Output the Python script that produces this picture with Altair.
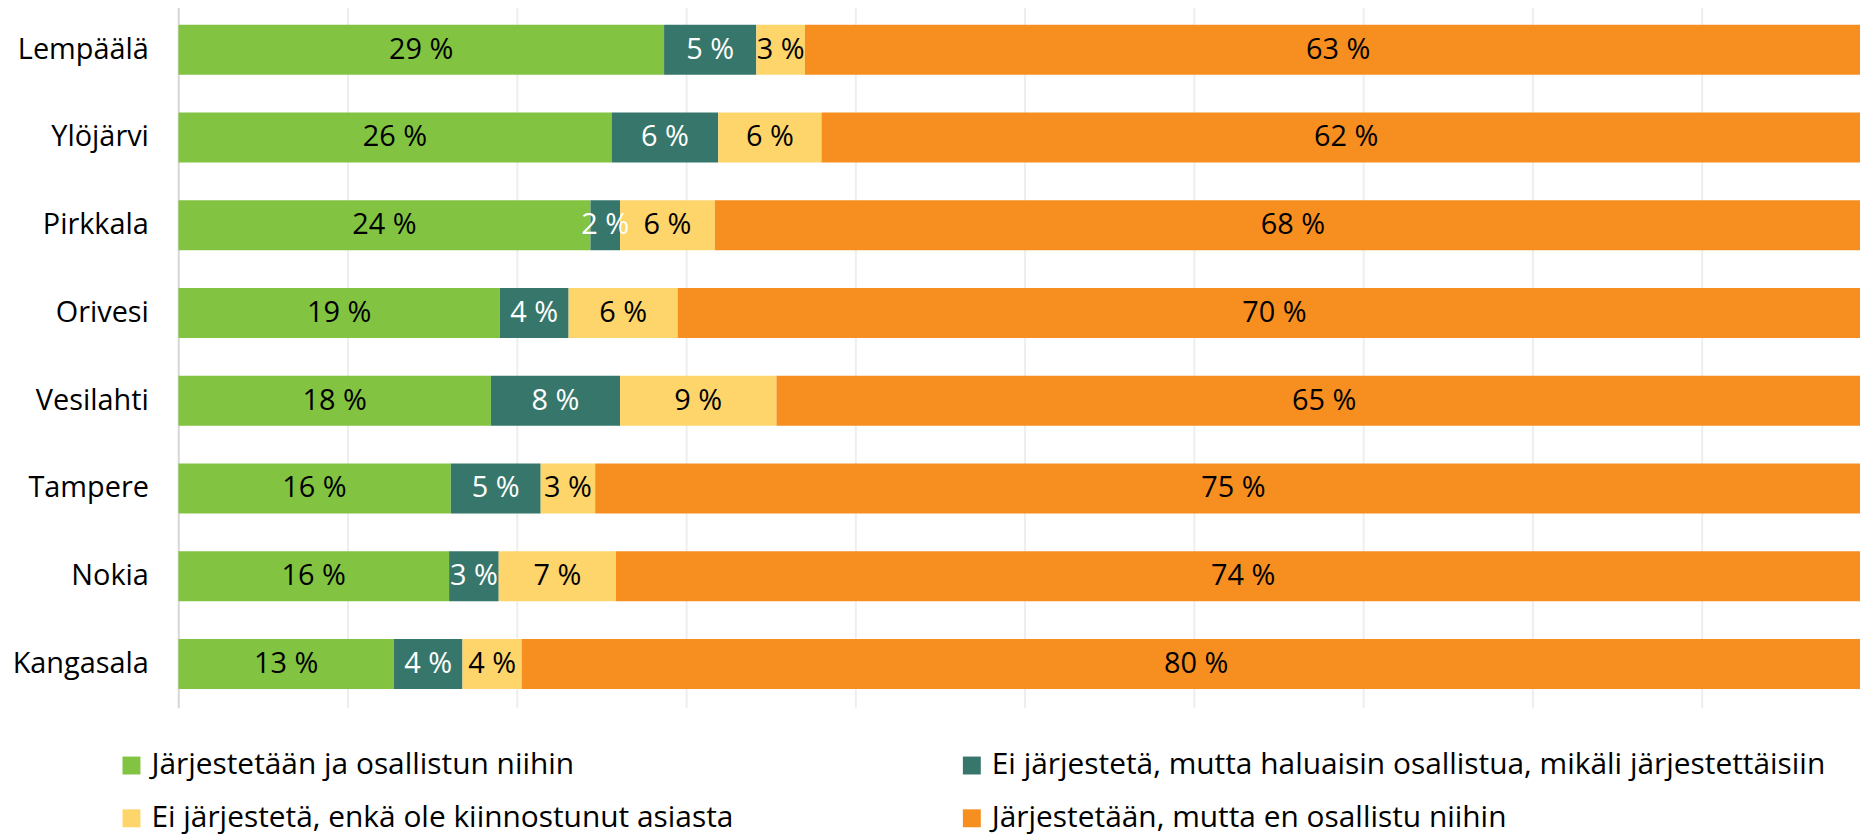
import altair as alt
import pandas as pd

municipalities = ["Lempäälä", "Ylöjärvi", "Pirkkala", "Orivesi",
                  "Vesilahti", "Tampere", "Nokia", "Kangasala"]
categories = [
    "Järjestetään ja osallistun niihin",
    "Ei järjestetä, mutta haluaisin osallistua, mikäli järjestettäisiin",
    "Ei järjestetä, enkä ole kiinnostunut asiasta",
    "Järjestetään, mutta en osallistu niihin",
]
colors = ["#82C341", "#37776B", "#FED56A", "#F78E20"]

# segment widths (%)
green = [28.7, 25.6, 24.35, 19.0, 18.47, 16.1, 16.0, 12.74]
teal = [5.45, 6.3, 1.75, 4.06, 7.63, 5.31, 2.93, 4.05]
yellow = [2.87, 6.1, 5.6, 6.44, 9.24, 3.22, 6.93, 3.5]
orange = [63.0, 62.0, 68.3, 70.5, 64.7, 75.4, 74.1, 79.7]

# printed labels
green_lbl = [29, 26, 24, 19, 18, 16, 16, 13]
teal_lbl = [5, 6, 2, 4, 8, 5, 3, 4]
yellow_lbl = [3, 6, 6, 6, 9, 3, 7, 4]
orange_lbl = [63, 62, 68, 70, 65, 75, 74, 80]

series = [green, teal, yellow, orange]
labels = [green_lbl, teal_lbl, yellow_lbl, orange_lbl]

rows = []
for i, m in enumerate(municipalities):
    start = 0.0
    for j, c in enumerate(categories):
        v = series[j][i]
        rows.append(dict(m=m, cat=c, start=start, end=start + v,
                         mid=start + v / 2, label=f"{labels[j][i]} %", k=j))
        start += v
df = pd.DataFrame(rows)

FONT = "Open Sans"

yenc = alt.Y("m:N", sort=municipalities, title=None,
             scale=alt.Scale(paddingInner=0.43, paddingOuter=0.215),
             axis=alt.Axis(labelFontSize=29, labelFont=FONT, labelColor="#000000",
                           labelPadding=30, ticks=False, domain=True,
                           domainColor="#D9D9D9", domainWidth=2, grid=False,
                           minExtent=171, maxExtent=171))
xscale = alt.Scale(domain=[0, 99.35], nice=False, zero=False)
xaxis = alt.Axis(values=list(range(0, 100, 10)), labels=False, ticks=False,
                 domain=False, grid=True, gridColor="#EEEEEE", gridWidth=2, title=None)

base = alt.Chart(df)
bars = base.mark_bar(clip=True).encode(
    y=yenc,
    x=alt.X("start:Q", scale=xscale, axis=xaxis),
    x2="end:Q",
    color=alt.Color("cat:N", scale=alt.Scale(domain=categories, range=colors),
                    legend=alt.Legend(title=None, orient="none", legendX=-62, legendY=748,
                                      direction="horizontal",
                                      columns=2, columnPadding=224, rowPadding=23,
                                      symbolType="square", symbolSize=324,
                                      symbolStrokeWidth=0, labelFontSize=30,
                                      labelFont=FONT, labelColor="#000000",
                                      labelOffset=5, padding=0, labelLimit=1000)),
)
text = base.mark_text(fontSize=29, font=FONT, baseline="middle", align="center").encode(
    y=alt.Y("m:N", sort=municipalities),
    x=alt.X("mid:Q", scale=xscale),
    text="label:N",
    color=alt.condition(alt.datum.k == 1, alt.value("#FFFFFF"), alt.value("#000000")),
)

chart = alt.layer(bars, text).properties(
    width=1689, height=705,
    autosize=alt.AutoSizeParams(type="none"),
    padding={"left": 171, "top": -4, "right": 0, "bottom": 131},
).configure_view(stroke=None)

chart.save("out.html", embed_options={"renderer": "svg", "actions": False})
